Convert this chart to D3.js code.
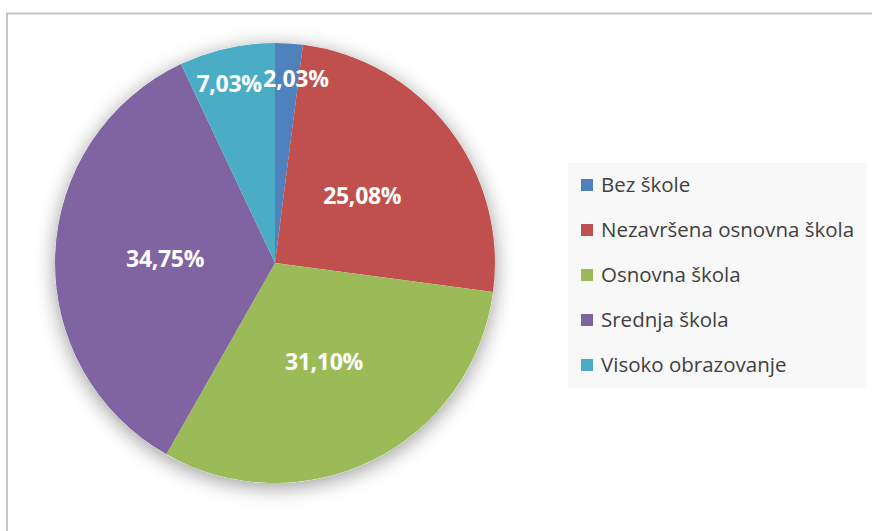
<!DOCTYPE html>
<html>
<head>
<meta charset="utf-8">
<script src="https://cdn.jsdelivr.net/npm/d3@7/dist/d3.min.js"></script>
<style>
  html, body { margin: 0; padding: 0; background: #fff; }
  #chart { width: 872px; height: 531px; }
</style>
</head>
<body>
<div id="chart"></div>
<script>
// Education level shares
const categories = ["Bez škole", "Nezavršena osnovna škola", "Osnovna škola", "Srednja škola", "Visoko obrazovanje"];
const shares = [2.03, 25.08, 31.10, 34.75, 7.03];
const colors = ["#4f81bd", "#c0504d", "#9bbb59", "#8064a2", "#4bacc6"];

(function () {
  const W = 872, H = 531;
  const cx = 275, cy = 263, R = 220;

  const svg = d3.select("#chart").append("svg")
    .attr("width", W).attr("height", H);

  // chart frame (cropped at right / bottom)
  svg.append("rect")
    .attr("x", 7).attr("y", 13.5).attr("width", 900).attr("height", 600)
    .attr("fill", "#fff").attr("stroke", "#c4c4c4").attr("stroke-width", 2);

  const defs = svg.append("defs");
  const f = defs.append("filter").attr("id", "glow")
    .attr("x", "-30%").attr("y", "-30%").attr("width", "160%").attr("height", "160%");
  f.append("feDropShadow").attr("dx", 0).attr("dy", 4)
    .attr("stdDeviation", 10).attr("flood-color", "#000").attr("flood-opacity", 0.4);

  const pie = d3.pie().sort(null).value(d => d)(shares);
  const arc = d3.arc().innerRadius(0).outerRadius(R);

  const g = svg.append("g").attr("transform", `translate(${cx},${cy})`);

  g.append("circle").attr("r", R).attr("fill", "#fff").attr("filter", "url(#glow)");

  g.selectAll("path.slice").data(pie).enter().append("path")
    .attr("class", "slice")
    .attr("d", arc)
    .attr("fill", (d, i) => colors[i]);

  // labels: big slices at half radius, thin slices pushed out toward the rim
  const fmt = v => v.toFixed(2).replace(".", ",") + "%";
  g.selectAll("text.lab").data(pie).enter().append("text")
    .attr("class", "lab")
    .attr("transform", (d, i) => {
      let a = (d.startAngle + d.endAngle) / 2;
      let r = R * 0.5;
      if (d.value < 10) {
        r = R * 0.84;
        // nudge the two small neighbours apart
        a += (i === 0 ? 0.05 : -0.03);
      }
      return `translate(${Math.sin(a) * r},${-Math.cos(a) * r})`;
    })
    .attr("text-anchor", "middle")
    .attr("dy", "0.35em")
    .style("font-family", "'Open Sans', sans-serif")
    .style("font-size", "23px").style("font-weight", "700")
    .style("letter-spacing", "-0.3px")
    .style("fill", "#fff")
    .text(d => fmt(d.value));

  // legend
  const lg = svg.append("g").attr("transform", "translate(568,163)");
  lg.append("rect").attr("width", 299).attr("height", 225).attr("fill", "#f8f8f8");

  const row = lg.selectAll("g.item").data(categories).enter().append("g")
    .attr("class", "item")
    .attr("transform", (d, i) => `translate(13,${22 + i * 45})`);
  row.append("rect").attr("x", 0).attr("y", -6).attr("width", 12).attr("height", 12)
    .attr("fill", (d, i) => colors[i]);
  row.append("text").attr("x", 20).attr("dy", "0.35em")
    .style("font-family", "'Open Sans', sans-serif")
    .style("font-size", "20.5px").style("fill", "#404040")
    .text(d => d);
})();
</script>
</body>
</html>
